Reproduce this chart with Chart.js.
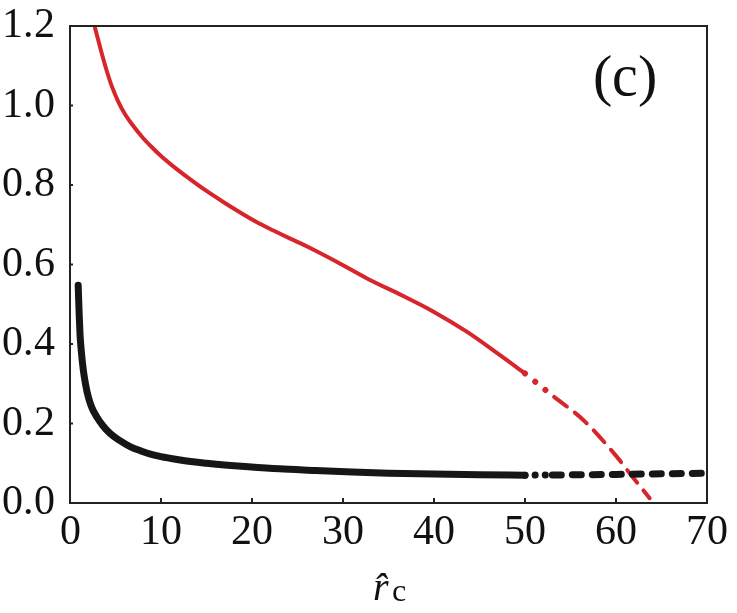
<!DOCTYPE html>
<html>
<head>
<meta charset="utf-8">
<script src="https://cdn.jsdelivr.net/npm/chart.js"></script>
<style>
  @font-face {
    font-family: "RefSerif";
    font-style: normal;
    src: local("Liberation Serif"), local("LiberationSerif"), local("Times New Roman"), local("DejaVu Serif");
  }
  @font-face {
    font-family: "RefSerif";
    font-style: italic;
    src: local("Liberation Serif Italic"), local("LiberationSerif-Italic"), local("Times New Roman Italic"), local("DejaVu Serif Italic");
  }
  body { margin: 0; background: #fff; }
  #wrap { position: relative; width: 737px; height: 613px; }
  .serif { position: absolute; color: #111; white-space: nowrap; font-family: "RefSerif", "Liberation Serif", serif; }
  #panel { left: 593px; top: 47px; font-size: 58px; line-height: 58px; }
  #xtitle { left: 373px; top: 567px; font-size: 40px; line-height: 40px; }
  #xtitle .sub { font-style: normal; font-size: 32px; position: relative; top: 1px; left: 3px; }
  #status { position: absolute; left: 2px; top: 600px; font: 10px monospace; color: #fff; }
</style>
</head>
<body>
<div id="wrap">
  <canvas id="chart"></canvas>
  <div id="panel" class="serif">(c)</div>
  <div id="xtitle" class="serif"><i>r̂</i><span class="sub">c</span></div>
  <div id="status"></div>
</div>
<script>
// axis ticks
const xTicks = [0, 10, 20, 30, 40, 50, 60, 70];
const yTicks = [0.0, 0.2, 0.4, 0.6, 0.8, 1.0, 1.2];

// black curve, solid part
const blackSolidX = [0.9, 1.0, 1.1, 1.25, 1.46, 1.7, 2.01, 2.4, 2.93, 3.6, 4.4, 5.4, 6.6, 7.8, 9.15, 10.6, 12.1, 15.0, 17.3, 19.6, 23, 27, 31, 35, 40, 45, 50];
const blackSolidY = [0.548, 0.48, 0.425, 0.38, 0.335, 0.300, 0.267, 0.240, 0.217, 0.195, 0.175, 0.158, 0.142, 0.131, 0.121, 0.114, 0.108, 0.100, 0.095, 0.091, 0.086, 0.082, 0.078, 0.075, 0.073, 0.071, 0.070];
// black curve, dotted/dashed part
const blackDashX = [50, 53, 56, 60, 65, 70];
const blackDashY = [0.070, 0.0705, 0.071, 0.072, 0.0735, 0.075];

// red curve, solid part
const redSolidX = [2.75, 3.1, 3.5, 4.0, 4.6, 5.3, 6.0, 7.0, 8.0, 9.0, 10.0, 11.35, 13.0, 15.0, 16.8, 18.7, 20.5, 22.3, 24.2, 26.0, 29.3, 32.8, 36.5, 39.9, 43.6, 47.25, 50.0];
const redSolidY = [1.195, 1.165, 1.130, 1.090, 1.048, 1.010, 0.980, 0.947, 0.919, 0.895, 0.873, 0.847, 0.818, 0.785, 0.758, 0.731, 0.707, 0.686, 0.665, 0.646, 0.607, 0.563, 0.522, 0.482, 0.431, 0.372, 0.326];
// red curve, dotted/dashed part
const redDashX = [50.0, 52.7, 53.2, 56.4, 60.1, 61.5, 63.7];
const redDashY = [0.326, 0.276, 0.267, 0.209, 0.116, 0.075, 0.012];

const RED = "#d7262b";
const BLACK = "#161616";
const AXIS = "#222";
const FONT = '"RefSerif", "Liberation Serif", serif';

const status = document.getElementById("status");
function note(s) { status.textContent += s + " "; }

function pts(xs, ys) {
  return xs.map((x, i) => ({ x: x, y: ys[i] }));
}

// dots just after x = 50, dashes after that
function dotsThenDashes(dots, dashes) {
  return (ctx) => (ctx.p0.parsed.x < 53 ? dots : dashes);
}
function widthSplit(dotW, dashW) {
  return (ctx) => (ctx.p0.parsed.x < 53 ? dotW : dashW);
}

// frame and inward tick marks
const framePlugin = {
  id: "frame",
  afterDraw(chart) {
    const a = chart.chartArea;
    const c = chart.ctx;
    const sx = chart.scales.x, sy = chart.scales.y;
    c.save();
    c.strokeStyle = AXIS;
    c.lineWidth = 2;
    c.strokeRect(a.left, a.top, a.right - a.left, a.bottom - a.top);
    c.beginPath();
    xTicks.forEach((v) => {
      const px = sx.getPixelForValue(v);
      c.moveTo(px, a.bottom);
      c.lineTo(px, a.bottom - 5);
    });
    yTicks.forEach((v) => {
      const py = sy.getPixelForValue(v);
      c.moveTo(a.left, py);
      c.lineTo(a.left + 3, py);
    });
    c.stroke();
    c.restore();
  },
};

const lineBase = {
  pointRadius: 0,
  fill: false,
  cubicInterpolationMode: "monotone",
  borderCapStyle: "round",
  borderJoinStyle: "round",
};

const chart = new Chart(document.getElementById("chart"), {
  type: "line",
  data: {
    datasets: [
      Object.assign({}, lineBase, {
        data: pts(blackSolidX, blackSolidY),
        borderColor: BLACK,
        borderWidth: 7,
      }),
      Object.assign({}, lineBase, {
        data: pts(blackDashX, blackDashY),
        borderColor: BLACK,
        borderWidth: 7,
        segment: { borderDash: dotsThenDashes([0.1, 10], [9, 11]) },
      }),
      Object.assign({}, lineBase, {
        data: pts(redSolidX, redSolidY),
        borderColor: RED,
        borderWidth: 4,
      }),
      Object.assign({}, lineBase, {
        data: pts(redDashX, redDashY),
        borderColor: RED,
        borderWidth: 4,
        segment: {
          borderDash: dotsThenDashes([0.1, 13], [16, 10]),
          borderWidth: widthSplit(6, 4),
        },
      }),
    ],
  },
  options: {
    responsive: true,
    maintainAspectRatio: false,
    animation: false,
    layout: { padding: { top: 26, right: 30, left: 0, bottom: 0 } },
    plugins: { legend: { display: false }, tooltip: { enabled: false } },
    scales: {
      x: {
        type: "linear",
        min: 0,
        max: 70,
        afterBuildTicks: (s) => { s.ticks = xTicks.map((v) => ({ value: v })); },
        afterFit: (s) => { s.height = 110; },
        border: { display: false },
        grid: { display: true, drawOnChartArea: false, drawTicks: false },
        ticks: { color: "#111", font: { family: FONT, size: 42 }, padding: 5, maxRotation: 0 },
      },
      y: {
        type: "linear",
        min: 0,
        max: 1.2,
        afterBuildTicks: (s) => { s.ticks = yTicks.map((v) => ({ value: v })); },
        afterFit: (s) => { s.width = 70; },
        border: { display: false },
        grid: { display: true, drawOnChartArea: false, drawTicks: false },
        ticks: {
          color: "#111",
          // small line height keeps the top label from pushing the plot down
          font: { family: FONT, size: 42, lineHeight: 0.5 },
          padding: 15,
          callback: (v) => Number(v).toFixed(1),
        },
      },
    },
  },
  plugins: [framePlugin],
});

// redraw once the serif face is loaded, canvas text does not update by itself
note("start");
if (document.fonts) {
  Promise.all([
    document.fonts.load('42px "RefSerif"'),
    document.fonts.load('italic 40px "RefSerif"'),
  ]).then((r) => { note("loaded:" + r.map((f) => f.length).join("/")); chart.update(); })
    .catch((e) => note("err:" + e));
  document.fonts.ready.then(() => { note("ready"); chart.update(); });
}
setTimeout(() => { note("t150"); chart.update(); }, 150);
</script>
</body>
</html>
